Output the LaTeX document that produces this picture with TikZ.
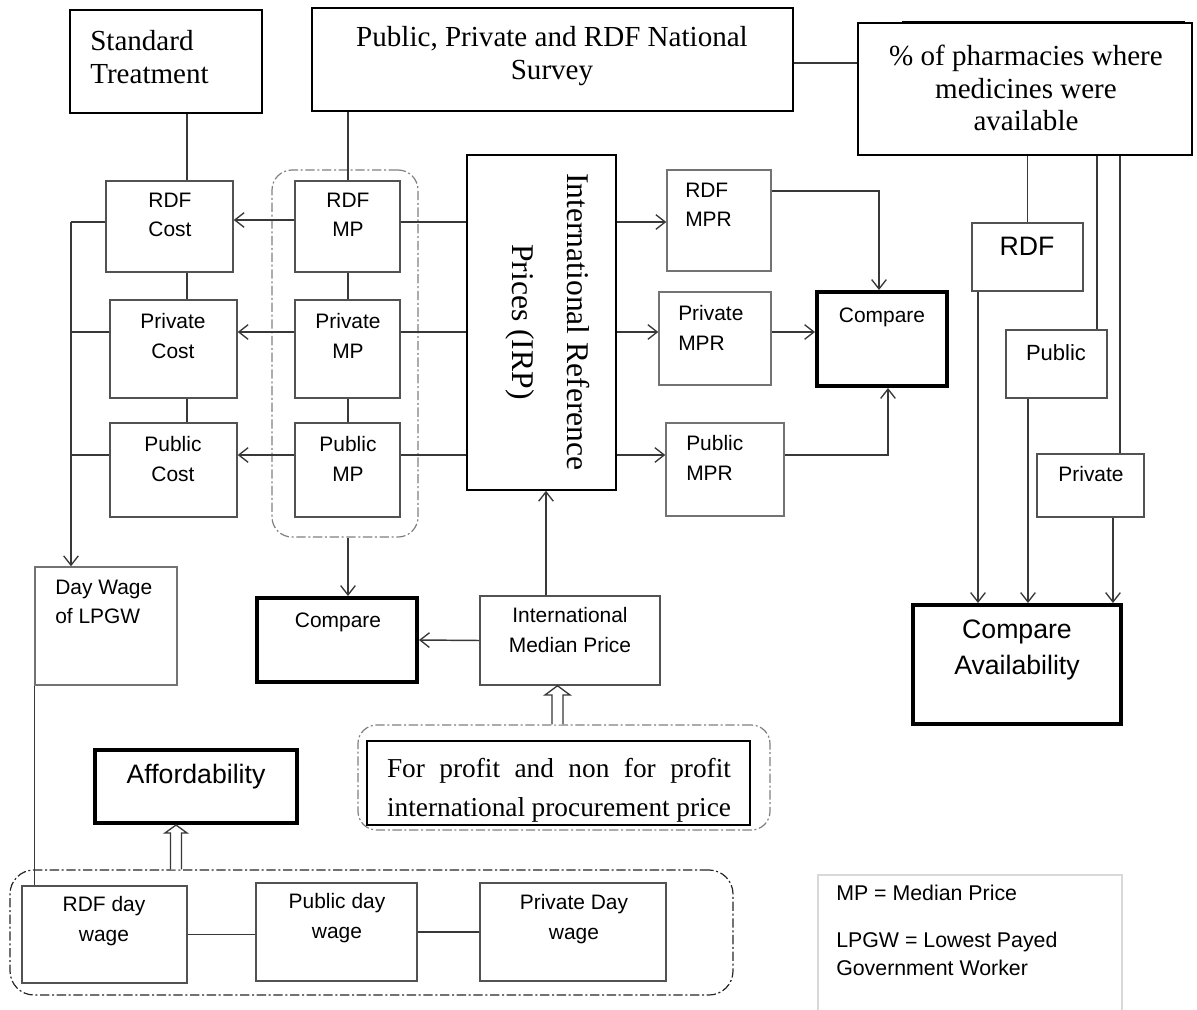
\documentclass[tikz,border=0pt]{standalone}
\usepackage{fontspec}
\setmainfont{Liberation Serif}
\setsansfont{Liberation Sans}
\usetikzlibrary{arrows.meta,fit,calc}
\begin{document}
\begin{tikzpicture}[x=0.75pt,y=-0.75pt,
  >={Straight Barb[length=7pt,width=11pt,line width=1pt]},
  bigbox/.style={draw=black,line width=1.2pt,inner sep=0pt},
  smallbox/.style={draw=black!68,line width=1.1pt,inner sep=0pt},
  lightbox/.style={draw=black!55,line width=1.1pt,inner sep=0pt},
  thickbox/.style={draw=black,line width=3pt,inner sep=0pt},
  legendbox/.style={draw=black!15,line width=0.8pt,inner sep=0pt},
  conn/.style={draw=black!78,line width=1.1pt},
  groupbox/.style={draw=black!50,line width=0.9pt,dash pattern=on 7pt off 2pt on 1.5pt off 2pt,inner sep=0pt},
  groupdark/.style={draw=black!85,line width=0.9pt,dash pattern=on 7pt off 2pt on 1.5pt off 2pt,inner sep=0pt},
  hollow/.style={draw=black!78,line width=1pt,fill=white},
  serif/.style={font=\fontsize{21.8}{24.5}\selectfont,align=center,inner sep=0pt},
  sans/.style={font=\sffamily\fontsize{15.7}{22}\selectfont,align=center,inner sep=0pt},
  bigsans/.style={font=\sffamily\fontsize{20}{27}\selectfont,align=center,inner sep=0pt},
]
\useasboundingbox (0,0) rectangle (1197,1010);

% ---------- rows / columns ----------
\coordinate (r1) at (0,222);
\coordinate (r2) at (0,332);
\coordinate (r3) at (0,455);
\coordinate (cx187) at (187,0);
\coordinate (cx348) at (348,0);
\coordinate (trunk) at (71,222);

% ---------- top boxes ----------
\node[bigbox,fit={(70,10) (262,113)}] (st) {};
\node[serif,align=left,anchor=west] (tst) at (90,57) {Standard\\Treatment};
\node[bigbox,fit={(312,8) (793,111)}] (survey) {};
\node[serif] (tsurvey) at (552,56) {Public, Private and RDF National\\Survey};
\draw[black,line width=1.2pt] (902,22) -- (1185,22);
\node[bigbox,fill=white,fit={(858,23) (1192,155)}] (pharm) {};
\node[serif] (tpharm) at (1026,88) {\% of pharmacies where\\medicines were\\available};

% ---------- cost column ----------
\node[smallbox,fit={(106,181) (233,272)}] (rdfcost) {};
\node[sans] at (170,215) {RDF\\Cost};
\node[smallbox,fit={(110,300) (237,398)}] (privcost) {};
\node[sans] at (173,336) {Private\\Cost};
\node[smallbox,fit={(110,423) (237,517)}] (pubcost) {};
\node[sans] at (173,459) {Public\\Cost};

% ---------- MP column ----------
\node[groupbox,rounded corners=15pt,fit={(272,170) (418,537)}] (mpgroup) {};
\node[smallbox,fit={(295,181) (400,272)}] (rdfmp) {};
\node[sans] at (348,215) {RDF\\MP};
\node[smallbox,fit={(295,300) (400,398)}] (privmp) {};
\node[sans] at (348,336) {Private\\MP};
\node[smallbox,fit={(295,423) (400,517)}] (pubmp) {};
\node[sans] at (348,459) {Public\\MP};

% ---------- IRP ----------
\node[bigbox,fit={(467,155) (616,490)}] (irp) {};
\node[font=\fontsize{23.7}{41}\selectfont,align=center,inner sep=0pt,rotate=-90] (tirp) at (548,322) {International Reference\\Prices (IRP)};

% ---------- MPR ----------
\node[lightbox,fit={(667,170) (771,271)}] (rdfmpr) {};
\node[sans,align=left,anchor=west] at (685,205) {RDF\\MPR};
\node[lightbox,fit={(659,292) (771,385)}] (privmpr) {};
\node[sans,align=left,anchor=west] at (678,328) {Private\\MPR};
\node[lightbox,fit={(666,423) (784,516)}] (pubmpr) {};
\node[sans,align=left,anchor=west] at (686,458) {Public\\MPR};
\node[thickbox,fit={(817,292) (947,386)}] (cmp1) {};
\node[sans] at (882,317) {Compare};

% ---------- availability ----------
\node[smallbox,fit={(972,223) (1083,291)}] (rdfav) {};
\node[bigsans] at (1027,246) {RDF};
\node[smallbox,fit={(1006,330) (1107,398)}] (pubav) {};
\node[sans,font=\sffamily\fontsize{16.5}{22}\selectfont] at (1056,353) {Public};
\node[smallbox,fit={(1037,454) (1144,517)}] (privav) {};
\node[sans] at (1091,474) {Private};
\node[thickbox,fit={(913,605) (1121,724)}] (cmpav) {};
\node[bigsans] at (1017,650) {Compare\\Availability};

% ---------- lower middle ----------
\node[lightbox,fit={(35,567) (177,685)}] (daywage) {};
\node[sans,align=left,anchor=west] at (55,602) {Day Wage\\of LPGW};
\node[thickbox,fit={(257,598) (417,682)}] (cmp2) {};
\node[sans] at (338,622) {Compare};
\node[smallbox,fit={(480,596) (660,685)}] (imp) {};
\node[sans] at (570,630) {International\\Median Price};

\node[groupbox,rounded corners=14pt,fit={(358,725) (770,830)}] (profitgrp) {};
\node[bigbox,fit={(367,741) (750,825)}] (profit) {};
\node[font=\fontsize{20.5}{29}\selectfont,align=center,inner sep=0pt] at (559,790)
  {\makebox[258pt][s]{For profit and non for profit}\\\makebox[258pt][s]{international procurement price}};

\node[thickbox,fit={(95,750) (297,823)}] (afford) {};
\node[bigsans] at (196,777) {Affordability};

% ---------- wages ----------
\node[groupdark,rounded corners=18pt,fit={(10,870) (733,995)}] (wagegrp) {};
\node[smallbox,fit={(22,886) (187,983)}] (rdfw) {};
\node[sans] at (104,921) {RDF day\\wage};
\node[smallbox,fit={(256,883) (417,981)}] (pubw) {};
\node[sans] at (337,918) {Public day\\wage};
\node[smallbox,fit={(480,883) (666,981)}] (privw) {};
\node[sans] at (574,919) {Private Day\\wage};

% ---------- legend ----------
\node[legendbox,fit={(818,875) (1122,1020)}] (legend) {};
\node[sans,align=left,anchor=north west,font=\sffamily\fontsize{16}{21}\selectfont] at (836,885)
  {MP = Median Price\\[14pt]LPGW = Lowest Payed\\Government Worker};

% ---------- connectors ----------
\draw[conn] (st.south -| cx187) -- (rdfcost.north -| cx187);
\draw[conn] (rdfcost.south -| cx187) -- (privcost.north -| cx187);
\draw[conn] (privcost.south -| cx187) -- (pubcost.north -| cx187);
\draw[conn] (survey.south -| cx348) -- (rdfmp.north -| cx348);
\draw[conn] (rdfmp.south -| cx348) -- (privmp.north -| cx348);
\draw[conn] (privmp.south -| cx348) -- (pubmp.north -| cx348);
\draw[conn] (survey.east |- 0,63) -- (pharm.west |- 0,63);

\draw[conn,->] (rdfmp.west |- 0,220) -- (rdfcost.east |- 0,220);
\draw[conn,->] (privmp.west |- r2) -- (privcost.east |- r2);
\draw[conn,->] (pubmp.west |- r3) -- (pubcost.east |- r3);

\draw[conn,line width=1.4pt,->] (trunk) -- (trunk |- daywage.north);
\draw[conn] (trunk) -- (rdfcost.west |- trunk);
\draw[conn] (trunk |- r2) -- (privcost.west |- r2);
\draw[conn] (trunk |- r3) -- (pubcost.west |- r3);

\draw[conn] (rdfmp.east |- r1) -- (irp.west |- r1);
\draw[conn] (privmp.east |- r2) -- (irp.west |- r2);
\draw[conn] (pubmp.east |- r3) -- (irp.west |- r3);
\draw[conn,->] (irp.east |- r1) -- (rdfmpr.west |- r1);
\draw[conn,->] (irp.east |- r2) -- (privmpr.west |- r2);
\draw[conn,->] (irp.east |- r3) -- (pubmpr.west |- r3);

\draw[conn,->] (rdfmpr.east |- 0,191) -| (cmp1.north -| 879,0);
\draw[conn,->] (privmpr.east |- r2) -- (cmp1.west |- r2);
\draw[conn,->] (pubmpr.east |- r3) -| (cmp1.south -| 888,0);

\draw[conn] (pharm.south -| rdfav.north) -- (rdfav.north);
\draw[conn] (pharm.south -| 1097,0) -- (pubav.north -| 1097,0);
\draw[conn] (pharm.south -| 1120,0) -- (privav.north -| 1120,0);
\draw[conn,->] (rdfav.south -| 978,0) -- (cmpav.north -| 978,0);
\draw[conn,->] (pubav.south -| 1028,0) -- (cmpav.north -| 1028,0);
\draw[conn,->] (privav.south -| 1113,0) -- (cmpav.north -| 1113,0);

\draw[conn,->] (mpgroup.south -| cx348) -- (cmp2.north -| cx348);
\draw[conn,->] (imp.west) -- (cmp2.east);
\draw[conn,->] (imp.north -| 546,0) -- (irp.south -| 546,0);

\draw[conn,line width=0.9pt] (daywage.south west) -- (daywage.south west |- rdfw.north);
\draw[conn,line width=0.9pt] (rdfw.east) -- (rdfw.east -| pubw.west);
\draw[conn,line width=0.9pt] (pubw.east) -- (privw.west);

% hollow arrows
\draw[hollow] (profitgrp.north -| 552,0) -- (552,695) -- (545,695) -- (imp.south -| 557.5,0) -- (570,695) -- (563,695) -- (profitgrp.north -| 563,0);
\draw[hollow] (wagegrp.north -| 170.5,0) -- (170.5,833) -- (165,833) -- (afford.south -| 176,0) -- (187,833) -- (181.5,833) -- (wagegrp.north -| 181.5,0);
\end{tikzpicture}
\end{document}
